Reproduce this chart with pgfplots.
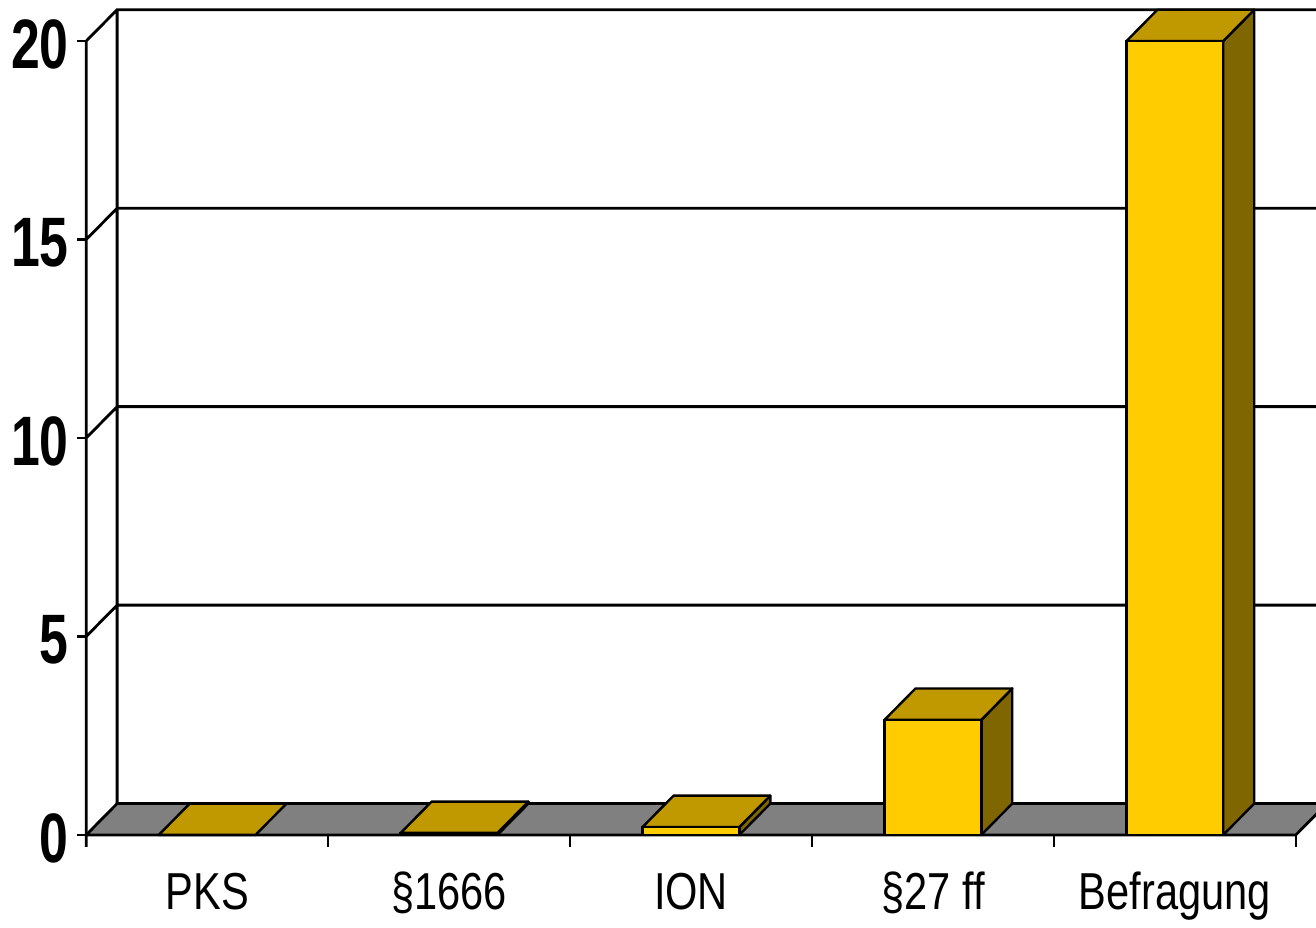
\documentclass[border=0pt]{standalone}
\usepackage{pgfplots}
\pgfplotsset{compat=1.18}
\usepackage{fontspec}
\setmainfont{Liberation Sans}
\newfontfamily\labfont[FakeStretch=0.8]{Liberation Sans}
\newfontfamily\numfont[FakeStretch=0.74]{Liberation Sans}
\definecolor{barfront}{RGB}{255,204,0}
\definecolor{bartop}{RGB}{192,153,0}
\definecolor{barside}{RGB}{128,102,0}
\definecolor{floorgray}{RGB}{128,128,128}
\begin{document}
\begin{tikzpicture}
\begin{axis}[
  width=658pt, height=461.5pt, scale only axis,
  xmin=-0.8554, xmax=4.5826, ymin=-2.2166, ymax=21.03,
  axis line style={draw=none},
  major tick length=0pt,
  xtick={0,1,2,3,4},
  xticklabels={PKS,§1666,ION,§27 ff,Befragung},
  xticklabel style={anchor=base, yshift=6.5pt, font=\fontsize{26}{30}\labfont},
  ytick={0,5,10,15,20},
  yticklabel style={anchor=east, inner sep=0pt, xshift=34.5pt, yshift=-1.5pt, font=\fontsize{35}{40}\numfont\bfseries},
  /pgf/number format/assume math mode=true,
  clip=true,
]
% floor
\addplot[fill=floorgray, draw=black, line width=1.4pt, line join=round] coordinates {(-0.5,0) (4.5,0) (4.628,0.79) (-0.372,0.79)} -- cycle;
% walls and gridlines
\addplot[black, line width=1.4pt, unbounded coords=jump] coordinates {
  (-0.5,-0.3) (-0.5,20) (nan,nan)
  (-0.372,0.79) (-0.372,20.79) (nan,nan)
  (-0.5,5) (-0.372,5.79) (4.7,5.79) (nan,nan)
  (-0.5,10) (-0.372,10.79) (4.7,10.79) (nan,nan)
  (-0.5,15) (-0.372,15.79) (4.7,15.79) (nan,nan)
  (-0.5,20) (-0.372,20.79) (4.7,20.79)
};
% y tick marks
\addplot[black, line width=1.2pt, unbounded coords=jump] coordinates {
  (-0.537,0) (-0.5,0) (nan,nan)
  (-0.537,5) (-0.5,5) (nan,nan)
  (-0.537,10) (-0.5,10) (nan,nan)
  (-0.537,15) (-0.5,15) (nan,nan)
  (-0.537,20) (-0.5,20)
};
% x tick marks
\addplot[black, line width=1.2pt, unbounded coords=jump] coordinates {
  (0.5,0) (0.5,-0.3) (nan,nan)
  (1.5,0) (1.5,-0.3) (nan,nan)
  (2.5,0) (2.5,-0.3) (nan,nan)
  (3.5,0) (3.5,-0.3) (nan,nan)
  (4.5,0) (4.5,-0.3)
};
% bar side faces
\addplot[fill=barside, draw=black, line width=1.2pt, line join=round] coordinates {(1.2,0) (1.328,0.79) (1.328,0.84) (1.2,0.05)} -- cycle;
\addplot[fill=barside, draw=black, line width=1.2pt, line join=round] coordinates {(2.2,0) (2.328,0.79) (2.328,0.99) (2.2,0.2)} -- cycle;
\addplot[fill=barside, draw=black, line width=1.2pt, line join=round] coordinates {(3.2,0) (3.328,0.79) (3.328,3.69) (3.2,2.9)} -- cycle;
\addplot[fill=barside, draw=black, line width=1.2pt, line join=round] coordinates {(4.2,0) (4.328,0.79) (4.328,20.79) (4.2,20)} -- cycle;
% bar top faces
\addplot[fill=bartop, draw=black, line width=1.2pt, line join=round] coordinates {(-0.2,0) (0.2,0) (0.328,0.79) (-0.072,0.79)} -- cycle;
\addplot[fill=bartop, draw=black, line width=1.2pt, line join=round] coordinates {(0.8,0.05) (1.2,0.05) (1.328,0.84) (0.928,0.84)} -- cycle;
\addplot[fill=bartop, draw=black, line width=1.2pt, line join=round] coordinates {(1.8,0.2) (2.2,0.2) (2.328,0.99) (1.928,0.99)} -- cycle;
\addplot[fill=bartop, draw=black, line width=1.2pt, line join=round] coordinates {(2.8,2.9) (3.2,2.9) (3.328,3.69) (2.928,3.69)} -- cycle;
\addplot[fill=bartop, draw=black, line width=1.2pt, line join=round] coordinates {(3.8,20) (4.2,20) (4.328,20.79) (3.928,20.79)} -- cycle;
% bar front faces
\addplot[ybar, bar width=0.4, fill=barfront, draw=black, line width=1.2pt] coordinates {(0,0) (1,0.05) (2,0.2) (3,2.9) (4,20)};
\end{axis}
\end{tikzpicture}
\end{document}
